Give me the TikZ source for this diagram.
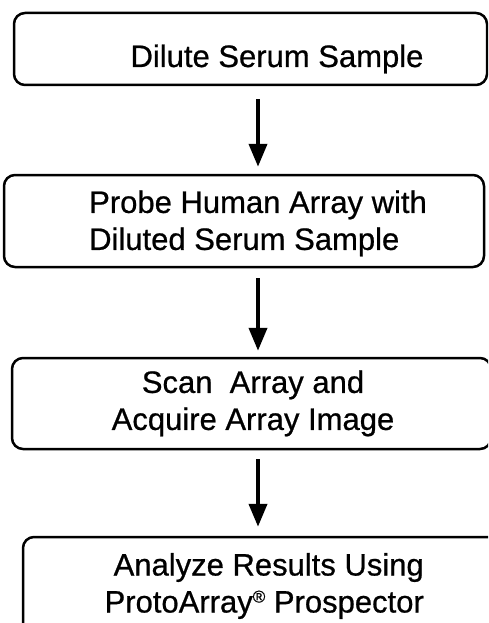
\documentclass[tikz,border=0pt]{standalone}
\usepackage{fontspec}
\setmainfont{Liberation Sans}
\newfontfamily\flowfont[FakeBold=0.7]{Liberation Sans}
\usetikzlibrary{arrows.meta}
\begin{document}
\begin{tikzpicture}[x=1pt,y=-1pt,
  stepbox/.style={draw=black, line width=2.5pt, rounded corners=11pt, inner sep=0pt},
  lbl/.style={font=\flowfont\fontsize{31}{37}\selectfont, inner sep=0pt, text=black},
  flow/.style={line width=4pt, -{Triangle[length=23pt,width=18pt]}}
]
\path[use as bounding box] (0,0) rectangle (488,623);
\clip (0,0) rectangle (488,623);
\node[stepbox, minimum width=473pt, minimum height=72pt] (b1) at (250.5,49) {};
\node[stepbox, minimum width=480pt, minimum height=92pt] (b2) at (244,221) {};
\node[stepbox, minimum width=479pt, minimum height=91pt] (b3) at (251.5,403.5) {};
\node[stepbox, minimum width=477pt, minimum height=103pt] (b4) at (261.5,588.5) {};

\node[lbl, anchor=base] (t1) at (277,67) {Dilute Serum Sample};
\node[lbl, anchor=west, align=left] (t2) at (89,223.4) {Probe Human Array with\\Diluted Serum Sample};
\node[lbl, align=center] (t3) at (253,403.4) {Scan~~Array and\\Acquire Array Image};
\node[lbl, anchor=east, align=right] (t4) at (424,586) {Analyze Results Using\\ProtoArray\raisebox{10pt}{\fontsize{17}{17}\selectfont ®} Prospector};

\coordinate (ax) at (258,0);
\draw[flow, shorten <=13pt, shorten >=7pt] (b1.south -| ax) -- (b2.north -| ax);
\draw[flow, shorten <=10pt, shorten >=6pt] (b2.south -| ax) -- (b3.north -| ax);
\draw[flow, shorten <=9pt, shorten >=9pt] (b3.south -| ax) -- (b4.north -| ax);
\end{tikzpicture}
\end{document}
